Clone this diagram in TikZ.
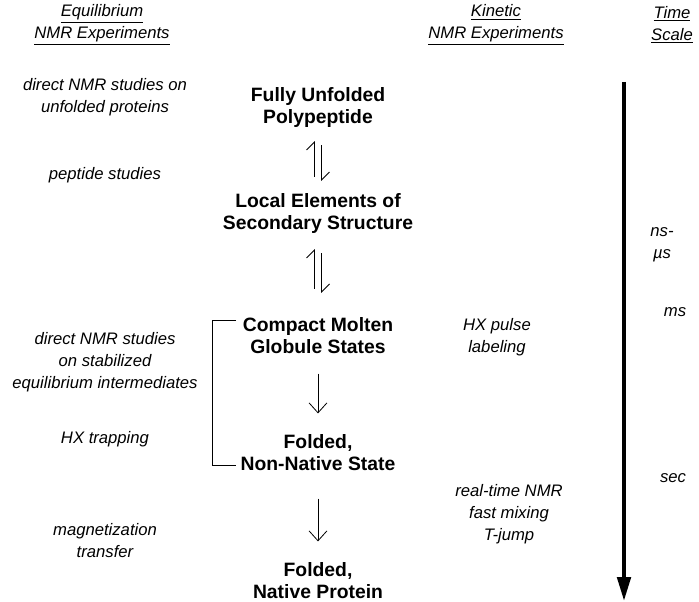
\documentclass[tikz,border=0pt]{standalone}
\usepackage{fontspec}
\setmainfont{Liberation Sans}
\usetikzlibrary{arrows.meta,calc}

\tikzset{every picture/.style={line width=0.75pt}}
\tikzset{
  state/.style={align=center,inner sep=0.75pt,font=\fontsize{14.5}{16.5}\selectfont\bfseries},
  method/.style={align=center,inner sep=0.75pt,font=\fontsize{12.5}{16.5}\selectfont\itshape},
  harp/.style={-{Straight Barb[harpoon,length=6pt,width=12pt]},line width=0.6pt},
  fold/.style={-{Straight Barb[length=7.5pt,width=13.5pt]},line width=0.6pt},
  timeline/.style={-{Triangle[length=18pt,width=10pt]},line width=3pt},
}

\begin{document}
\begin{tikzpicture}[x=0.75pt,y=0.75pt,yscale=-1,xscale=1]
\clip (0,0) rectangle (699,602);

% Column headers
\node[method] (eqhead) at (102,25) {\underline{Equilibrium}\\\underline{NMR Experiments}};
\node[method] (kinhead) at (496,25) {\underline{Kinetic}\\\underline{NMR Experiments}};
\node[method] (timehead) at (672,25) {\underline{Time}\\\underline{Scale}};

% States along the folding pathway
\node[state] (unf) at (318,108) {Fully Unfolded\\Polypeptide};
\node[state] (loc) at (318,214) {Local Elements of\\Secondary Structure};
\node[state] (cmg) at (318,336) {Compact Molten\\Globule States};
\node[state] (nns) at (318,453) {Folded,\\Non-Native State};
\node[state] (nat) at (318,581) {Folded,\\Native Protein};

% Equilibrium methods
\node[method] (unfnmr) at (105,97) {direct NMR studies on\\unfolded proteins};
\node[method] (pept) at (105,175) {peptide studies};
\node[method] (stabnmr) at (105,362) {direct NMR studies\\on stabilized\\equilibrium intermediates};
\node[method] (hxtrap) at (105,439) {HX trapping};
\node[method] (magtr) at (105,541) {magnetization\\transfer};

% Kinetic methods
\node[method] (hxpulse) at (497,337) {HX pulse\\labeling};
\node[method] (rtnmr) at (509,514) {real-time NMR\\fast mixing\\T-jump};

% Time scale labels
\node[method] (nsmus) at (662,245) {ns-\\µs};
\node[method] (msec) at (675,312) {ms};
\node[method] (sec) at (673,478) {sec};

%Harpoons
\draw[harp] ($(loc.north)+(-3.5,-15.5)$) -- ($(unf.south)+(-3.5,11.5)$);
\draw[harp] ($(unf.south)+(3.5,15.5)$) -- ($(loc.north)+(3.5,-11.5)$);
\draw[harp] ($(cmg.north)+(-3.5,-27.5)$) -- ($(loc.south)+(-3.5,13.5)$);
\draw[harp] ($(loc.south)+(3.5,17.5)$) -- ($(cmg.north)+(3.5,-23.5)$);

%Arrows
\draw[fold] ($(cmg.south)+(0,18)$) -- ($(nns.north)+(0,-20)$);
\draw[fold] ($(nns.south)+(0,26)$) -- ($(nat.north)+(0,-20)$);

%Bracket
\coordinate (brtop) at (236,320);
\coordinate (brbot) at (236,465);
\draw (brtop) -- ++(-24,0) |- (brbot);

%Time arrow
\coordinate (tstart) at (624,82);
\coordinate (tend) at (624,601);
\draw[timeline] (tstart) -- (tend);
\end{tikzpicture}
\end{document}
